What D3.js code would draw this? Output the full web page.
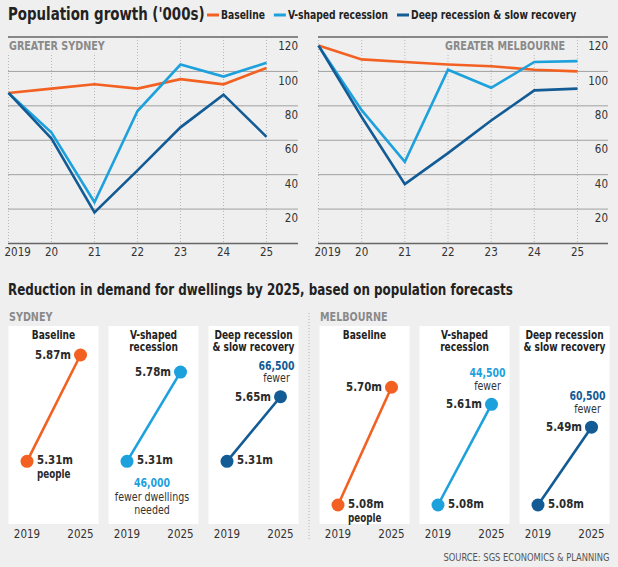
<!DOCTYPE html>
<html><head><meta charset="utf-8">
<script src="https://cdn.jsdelivr.net/npm/d3@7"></script>
<style>
body{margin:0;background:#efefef;}
svg{display:block;font-family:"DejaVu Sans Condensed","Liberation Sans Narrow","Roboto Condensed",Roboto,sans-serif;}
</style></head><body>
<svg id="c" width="618" height="567"></svg>
<script>
// ---------- DATA ----------
const years = ["2019","20","21","22","23","24","25"];
const seriesNames = ["Baseline","V-shaped recession","Deep recession & slow recovery"];
const seriesColors = ["#f26122","#1da1dd","#125b95"];
const yTicks = [20,40,60,80,100,120];
const sydBaseline = [87.5, 90, 92.5, 90, 95.5, 92.5, 102];
const sydVShaped  = [87.5, 64.5, 24, 77, 104, 97, 105];
const sydDeep     = [87.5, 61, 18, 42.5, 67.5, 86.5, 62];
const melBaseline = [115, 107, 105.5, 104, 103, 101, 100];
const melVShaped  = [115, 77.5, 47.5, 101, 90.5, 105.5, 106];
const melDeep     = [115, 73.5, 34.5, 52.5, 71.5, 89, 90];

const scenarioTitles = [["Baseline"],["V-shaped","recession"],["Deep recession","& slow recovery"]];
const dwellYears = ["2019","2025"];
const sydPop2019 = [5.31, 5.31, 5.31];
const sydPop2025 = [5.87, 5.78, 5.65];
const melPop2019 = [5.08, 5.08, 5.08];
const melPop2025 = [5.70, 5.61, 5.49];
const sydFewer = [null, "46,000", "66,500"];
const melFewer = [null, "44,500", "60,500"];

// ---------- HELPERS ----------
const svg = d3.select("#c");
svg.append("rect").attr("width",618).attr("height",567).attr("fill","#efefef");
const ink = "#222";
function T(parent, x, y, s, o={}){
  const t = parent.append("text")
    .attr("transform",`translate(${x},${y}) scale(${o.sx||1},1)`)
    .attr("text-anchor",o.anchor||"start").attr("dominant-baseline","central")
    .attr("font-size",o.size||12).attr("font-weight",o.weight||400)
    .attr("fill",o.fill||ink).text(s);
  return t;
}
const WORD = 0.85, NUM = 0.92;

// Title + legend
T(svg, 8, 14, "Population growth ('000s)", {size:17.5, weight:700, sx:WORD});
let lx = 207;
seriesNames.forEach((n,i)=>{
  svg.append("line").attr("x1",lx).attr("x2",lx+12).attr("y1",15).attr("y2",15)
    .attr("stroke",seriesColors[i]).attr("stroke-width",3);
  const t = T(svg, lx+14, 15, n, {size:12, weight:700, sx:WORD});
  lx += 14 + t.node().getComputedTextLength()*WORD + 9;
});

// ---------- LINE CHARTS ----------
const y = d3.scaleLinear().domain([0,120]).range([243.5,37]);
function lineChart(cfg){
  const g = svg.append("g");
  const x = d3.scalePoint().domain(years).range([cfg.x0, cfg.x1]);
  g.selectAll(".v").data(years).join("line")
    .attr("x1",d=>x(d)).attr("x2",d=>x(d)).attr("y1",y(120)).attr("y2",y(0))
    .attr("stroke","#b8b8b8").attr("stroke-dasharray","1,2");
  g.selectAll(".h").data([0].concat(yTicks)).join("line")
    .attr("x1",cfg.gl).attr("x2",cfg.gr).attr("y1",d=>y(d)).attr("y2",d=>y(d))
    .attr("stroke",d=> d===0||d===120 ? "#666" : "#a0a0a0")
    .attr("stroke-width",d=> d===0||d===120 ? 1.5 : 1);
  yTicks.forEach(v=> T(g, cfg.gr, y(v)+9, v, {size:12.5, fill:"#333", anchor:"end", sx:NUM}));
  years.forEach((d,i)=> T(g, i===0 ? x(d)-4 : x(d), 252, d,
    {size:12.5, fill:"#333", anchor: i===0 ? "start":"middle", sx:NUM}));
  const lab = T(g, cfg.lx, 46, cfg.label, {size:11.5, weight:700, fill:"#8a8a8a", anchor:cfg.la, sx:0.93});
  const bb = lab.node().getBoundingClientRect();
  g.insert("rect","text").attr("x",bb.x-2).attr("y",bb.y).attr("width",bb.width+4).attr("height",bb.height)
    .attr("fill","#efefef");
  const line = d3.line().x((d,i)=>x(years[i])).y(d=>y(d));
  cfg.series.forEach((s,i)=>{
    g.append("path").attr("d",line(s)).attr("fill","none").attr("stroke",seriesColors[i])
      .attr("stroke-width",2.6).attr("stroke-linejoin","miter");
  });
}
lineChart({x0:8.5,x1:266.5,gl:8,gr:298,label:"GREATER SYDNEY",lx:9,la:"start",
  series:[sydBaseline,sydVShaped,sydDeep]});
lineChart({x0:318.5,x1:577.5,gl:318,gr:608,label:"GREATER MELBOURNE",lx:565,la:"end",
  series:[melBaseline,melVShaped,melDeep]});

// ---------- DWELLINGS ----------
T(svg, 8, 290, "Reduction in demand for dwellings by 2025, based on population forecasts",
  {size:15.5, weight:700, sx:0.856});
svg.append("line").attr("x1",309).attr("x2",309).attr("y1",313).attr("y2",540)
  .attr("stroke","#b0b0b0").attr("stroke-dasharray","1,2");

const yD = d3.scaleLinear().domain([5.08,5.87]).range([505,355]);
const xD = d3.scalePoint().domain(dwellYears).range([18.5,72]);
function fmt(v){return v.toFixed(2)+"m";}

function dwellings(cfg){
  T(svg, cfg.base+0.5, 317, cfg.label, {size:11.5, weight:700, fill:"#8a8a8a", sx:0.93});
  scenarioTitles.forEach((tl,i)=>{
    const g = svg.append("g").attr("transform",`translate(${cfg.base+i*100},0)`);
    g.append("rect").attr("x",0).attr("y",326).attr("width",90).attr("height",198).attr("fill","#fff");
    tl.forEach((t,j)=> T(g, 45, 335+j*12.5, t, {size:12, weight:700, anchor:"middle", sx:0.84}));
    const v0 = cfg.p19[i], v1 = cfg.p25[i], c = seriesColors[i];
    g.append("line").attr("x1",xD("2019")).attr("y1",yD(v0)).attr("x2",xD("2025")).attr("y2",yD(v1))
      .attr("stroke",c).attr("stroke-width",2.6);
    g.selectAll("circle").data([["2019",v0],["2025",v1]]).join("circle")
      .attr("cx",d=>xD(d[0])).attr("cy",d=>yD(d[1])).attr("r",6.5).attr("fill",c);
    T(g, xD("2019")+10, yD(v0)-1, fmt(v0), {size:12, weight:700, fill:"#2a2a2a", sx:0.95});
    T(g, xD("2025")-9.5, yD(v1), fmt(v1), {size:12, weight:700, fill:"#2a2a2a", anchor:"end", sx:0.95});
    if(i===0) T(g, xD("2019")+10, yD(v0)+13, "people", {size:11.5, weight:700, fill:"#2a2a2a", sx:WORD});
    const f = cfg.fewer[i];
    if(f){
      if(cfg.below && i===1){
        const cx = 43.5, y0 = yD(v0);
        T(g, cx, y0+22, f, {size:12, weight:700, fill:c, anchor:"middle", sx:0.87});
        ["fewer dwellings","needed"].forEach((t,j)=> T(g, cx, y0+36+j*12.5, t,
          {size:12, fill:"#333", anchor:"middle", sx:0.88}));
      } else {
        const cx = xD("2025")-4, y1 = yD(v1);
        T(g, cx, y1-31, f, {size:12, weight:700, fill:c, anchor:"middle", sx:0.87});
        T(g, cx, y1-18, "fewer", {size:12, fill:"#333", anchor:"middle", sx:0.88});
      }
    }
    dwellYears.forEach(yr=> T(g, xD(yr), 534, yr, {size:12.5, fill:"#333", anchor:"middle", sx:NUM}));
  });
}
dwellings({base:8.5,label:"SYDNEY",p19:sydPop2019,p25:sydPop2025,fewer:sydFewer,below:true});
dwellings({base:319.5,label:"MELBOURNE",p19:melPop2019,p25:melPop2025,fewer:melFewer,below:false});

T(svg, 609.5, 557, "SOURCE: SGS ECONOMICS & PLANNING", {size:10, fill:"#555", anchor:"end", sx:0.93});
</script></body></html>
